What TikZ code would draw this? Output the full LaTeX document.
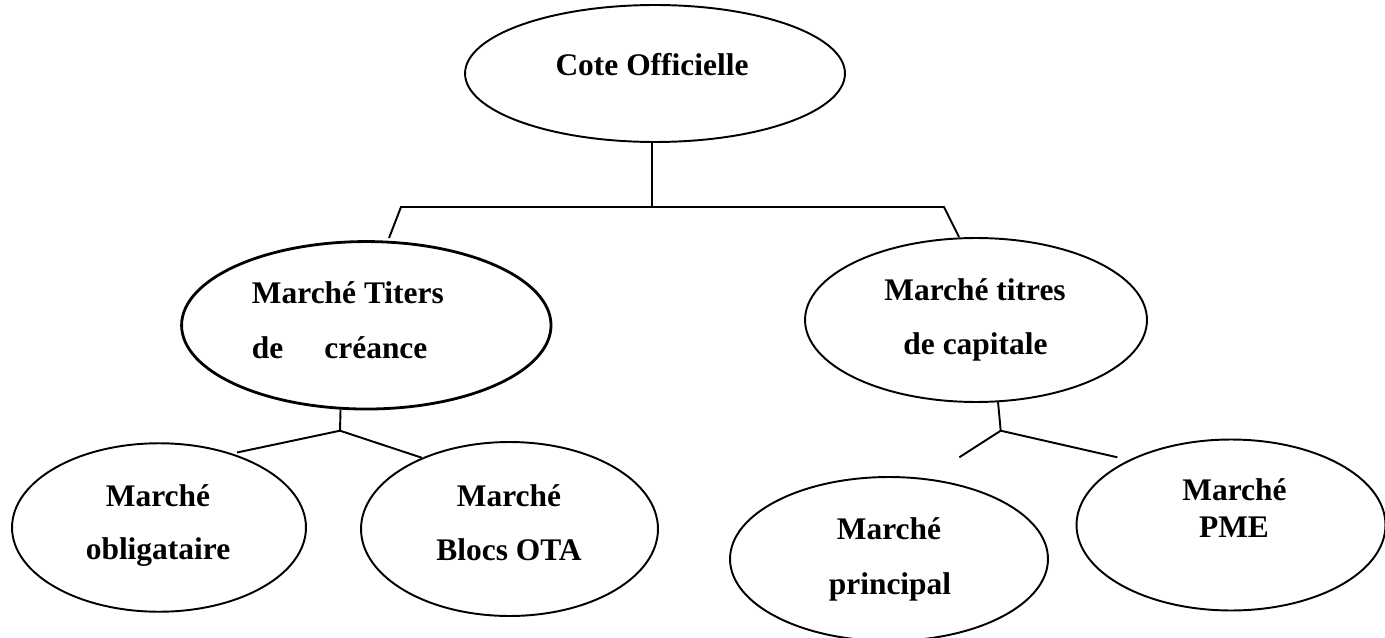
\documentclass[tikz,border=0pt]{standalone}
\usepackage{fontspec}
\setmainfont{Liberation Serif}
\usetikzlibrary{shapes.geometric}

\begin{document}
\begin{tikzpicture}[line width=1.1pt,x=0.02cm,y=-0.02cm]
\tikzstyle{oval}=[draw,ellipse,inner sep=0pt];
\tikzstyle{txt}=[font=\fontsize{17.9}{20}\selectfont\bfseries,inner sep=0pt,anchor=base];
\useasboundingbox (0,0) rectangle (1385,638);

% ellipses
\node [oval,minimum width=7.6cm,minimum height=2.74cm] (cote) at (655,73.5) {};
\node [oval,minimum width=7.39cm,minimum height=3.35cm,line width=1.6pt] (creance) at (366.3,325.3) {};
\node [oval,minimum width=6.84cm,minimum height=3.28cm] (capitale) at (976,320) {};
\node [oval,minimum width=5.88cm,minimum height=3.37cm] (oblig) at (159,527.5) {};
\node [oval,minimum width=5.94cm,minimum height=3.48cm] (blocs) at (509.5,529) {};
\node [oval,minimum width=6.36cm,minimum height=3.28cm] (princ) at (889,559) {};
\node [oval,minimum width=6.18cm,minimum height=3.42cm] (pme) at (1231,525) {};

% texts
\node [txt] (coteA) at (652,76) {Cote Officielle};
\node [txt,anchor=base west] (creanceA) at (251,303.3) {Marché Titers};
\node [txt,anchor=base west] (creanceB) at (251,358.3) {de\hspace{0.82cm}créance};
\node [txt] (capitaleA) at (975,300) {Marché titres};
\node [txt] (capitaleB) at (975.5,355) {de capitale};
\node [txt] (obligA) at (158,506.7) {Marché};
\node [txt] (obligB) at (158,559.3) {obligataire};
\node [txt] (blocsA) at (509,506) {Marché};
\node [txt] (blocsB) at (509,560.7) {Blocs OTA};
\node [txt] (princA) at (889,539) {Marché};
\node [txt] (princB) at (890,594) {principal};
\node [txt] (pmeA) at (1234.5,500) {Marché};
\node [txt] (pmeB) at (1234,537) {PME};

% tree lines
\coordinate (bar) at (652,207);
\coordinate (barL) at (401,207);
\coordinate (barR) at (944,207);
\coordinate (endL) at (389,238);
\coordinate (endR) at (959,237);
\draw (cote.south -| bar) -- (bar);
\draw (endL) -- (barL) -- (barR) -- (endR);

\coordinate (jL) at (340,430.7);
\coordinate (obligEnd) at (237,452.5);
\coordinate (blocsEnd) at (421.7,457.7);
\draw (creance.-107) -- (jL);
\draw (obligEnd) -- (jL) -- (blocsEnd);

\coordinate (jR) at (1000.7,430.7);
\coordinate (princEnd) at (959.3,457.3);
\coordinate (pmeEnd) at (1117.3,457.3);
\draw (capitale.-75) -- (jR);
\draw (princEnd) -- (jR) -- (pmeEnd);
\end{tikzpicture}
\end{document}
